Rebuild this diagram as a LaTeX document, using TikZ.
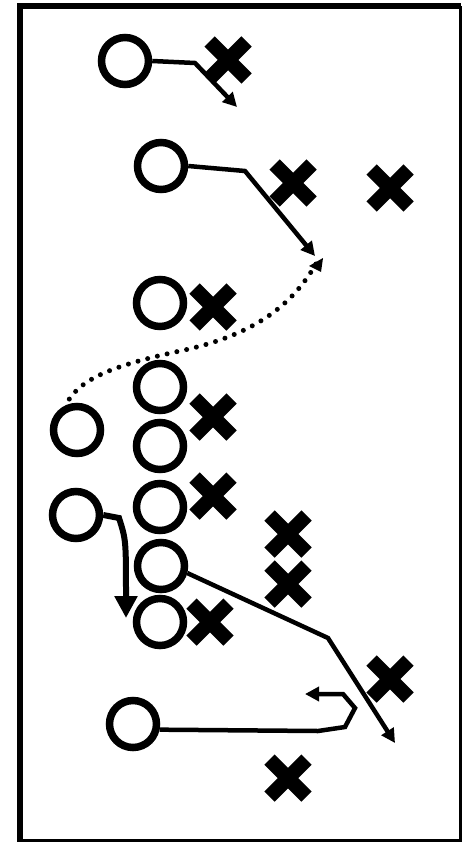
\documentclass[tikz,border=0pt]{standalone}
\usetikzlibrary{arrows.meta}
\begin{document}
\begin{tikzpicture}[x=1pt,y=-1pt,
  player/.style={circle,draw,line width=7.5pt,minimum size=47pt,inner sep=0pt},
  xmark/.style={minimum size=50pt,inner sep=0pt,outer sep=0pt,
    path picture={\draw[line width=14.5pt,shift={(path picture bounding box.center)}]
      (-18.5pt,-18.5pt) -- (18.5pt,18.5pt) (-18.5pt,18.5pt) -- (18.5pt,-18.5pt);}},
  route/.style={line width=4.5pt,-{Triangle[length=14pt,width=14pt]}},
  dotroute/.style={line width=5pt,line cap=round,dash pattern=on 0pt off 10pt}]
\useasboundingbox (0,0) rectangle (465,842);
\draw[line width=6pt] (20,844) -- (20,6.5) -- (461,6.5);
\draw[line width=3pt] (460,6.5) -- (460,840.5) -- (17,840.5);
% offense
\node[player] (c1) at (125,61) {};
\node[player] (c2) at (161,166) {};
\node[player] (c3) at (160,303) {};
\node[player] (c4) at (160,387) {};
\node[player] (c5) at (77,430) {};
\node[player] (c6) at (160,446) {};
\node[player] (c7) at (160,507) {};
\node[player] (c8) at (76,515) {};
\node[player] (c9) at (161,566) {};
\node[player] (c10) at (160,622) {};
\node[player] (c11) at (133,724) {};
% defense
\node[xmark] (x1) at (228,60) {};
\node[xmark] (x2) at (293,183) {};
\node[xmark] (x3) at (390,188) {};
\node[xmark] (x4) at (213,307) {};
\node[xmark] (x5) at (213,417) {};
\node[xmark] (x6) at (213,496) {};
\node[xmark] (x7) at (288,534) {};
\node[xmark] (x8) at (288,584) {};
\node[xmark] (x9) at (210,622) {};
\node[xmark] (x10) at (390,679) {};
\node[xmark] (x11) at (288,778) {};
% routes
\coordinate (r1a) at (195,63);
\coordinate (r1b) at (237,107);
\draw[route] (c1.east) -- (r1a) -- (r1b);
\coordinate (r2a) at (245,171);
\coordinate (r2b) at (315,256);
\draw[route] (c2.east) -- (r2a) -- (r2b);
\coordinate (d0) at (316,264);
\coordinate (d1) at (180,351);
\coordinate (d2) at (68,401);
\draw[dotroute] (d0) .. controls (292,305) and (255,335) .. (d1)
  .. controls (115,365) and (82,378) .. (d2);
\fill (d0) ++(7,-6) -- ++(-2,14) -- ++(-12,-6) -- cycle;
\coordinate (r8a) at (119,518);
\coordinate (r8b) at (126,618);
\draw[line width=6pt,-{Triangle[length=22pt,width=22pt]}] (c8.east) -- (r8a) .. controls (126,540) .. (r8b);
\coordinate (r9a) at (328,638);
\coordinate (r9b) at (395,743);
\draw[route] (c9.-15) -- (r9a) -- (r9b);
\coordinate (r11a) at (318,731);
\coordinate (r11b) at (345,727);
\coordinate (r11c) at (355,708);
\coordinate (r11d) at (343,694);
\coordinate (r11e) at (305,694);
\draw[route,line join=miter] (c11.-12) -- (r11a) -- (r11b) -- (r11c) -- (r11d) -- (r11e);
\end{tikzpicture}
\end{document}
